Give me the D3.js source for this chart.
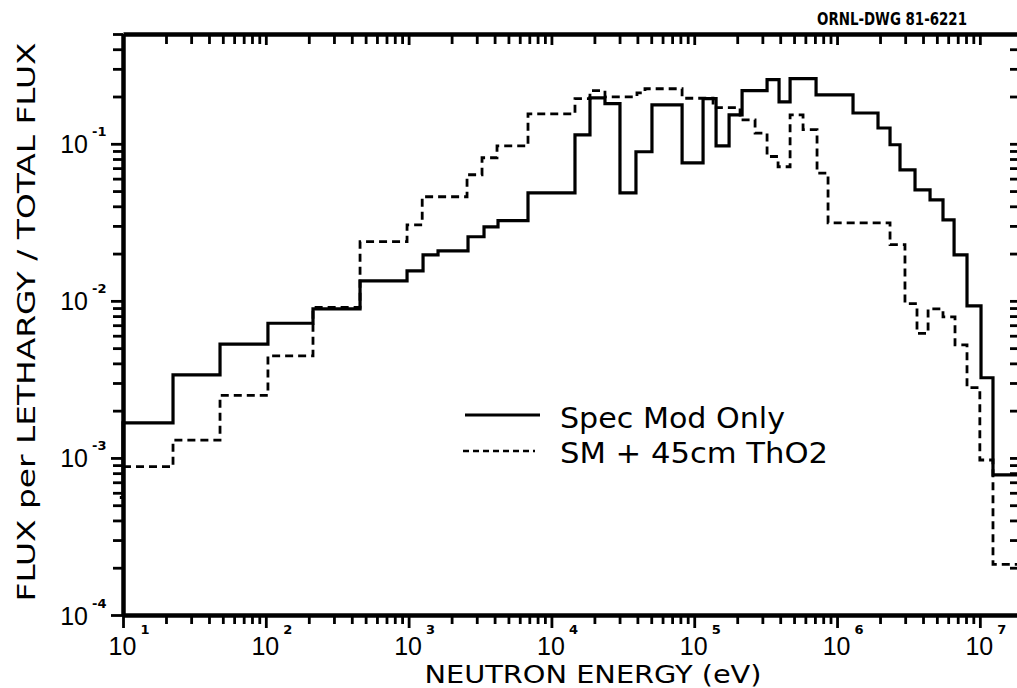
<!DOCTYPE html>
<html>
<head>
<meta charset="utf-8">
<script src="https://cdn.jsdelivr.net/npm/d3@7"></script>
<style>
  html, body { margin: 0; padding: 0; background: #fff; }
  svg { display: block; }
  text { font-family: "DejaVu Sans", "Liberation Sans", Arial, sans-serif; fill: #000; }
  .tick-num { font-family: "Liberation Sans", Arial, sans-serif; }
</style>
</head>
<body>
<svg id="chart" width="1017" height="688"></svg>
<script>
// Group boundaries (eV) and flux per unit lethargy, normalised to total flux.
// First group of the moderator-only spectrum starts just below 10 eV.
const specModEdges = [9.5, 10, 22.4, 47.8, 103.5, 214, 457, 975, 1262, 1607, 2606, 3373, 4227, 6855,
  14620, 18620, 23710, 30200, 39080, 50580, 82220, 115300, 142200, 175400, 216300, 323600, 392600,
  469000, 713000, 1294000, 1936000, 2350000, 2760000, 3516000, 4480000, 5520000, 6600000, 8130000,
  10190000, 12360000, 18800000];
const specModFlux = [5.6e-4, 1.67e-3, 3.38e-3, 5.3e-3, 7.2e-3, 8.9e-3, 1.34e-2, 1.55e-2, 1.96e-2,
  2.08e-2, 2.56e-2, 2.96e-2, 3.24e-2, 4.87e-2, 0.114, 0.196, 0.18, 0.0487, 0.089, 0.177, 0.0757,
  0.194, 0.097, 0.153, 0.218, 0.256, 0.185, 0.26, 0.205, 0.157, 0.126, 0.0986, 0.0683, 0.0509,
  0.044, 0.0328, 0.0196, 9.3e-3, 3.24e-3, 7.8e-4];

const thoriaEdges = [10, 22.4, 47.8, 103.5, 214, 457, 975, 1245, 2565, 3266, 4159, 6855, 14620, 18620,
  23710, 39720, 45190, 82220, 135500, 209400, 266700, 323600, 386400, 469000, 578100, 724400, 865000,
  2350000, 2990000, 3630000, 4340000, 5520000, 6700000, 8130000, 10000000, 12360000, 18800000];
const thoriaFlux = [8.8e-4, 1.3e-3, 2.5e-3, 4.47e-3, 9.1e-3, 2.38e-2, 3.05e-2, 4.6e-2, 6.35e-2,
  8.15e-2, 9.7e-2, 0.155, 0.194, 0.218, 0.199, 0.211, 0.224, 0.195, 0.17, 0.142, 0.117, 0.083,
  0.0714, 0.153, 0.123, 0.065, 0.0314, 0.0228, 9.6e-3, 6.2e-3, 8.9e-3, 7.9e-3, 5.25e-3, 2.8e-3,
  9.7e-4, 2.1e-4];

const xExponents = [1, 2, 3, 4, 5, 6, 7];
const yExponents = [-4, -3, -2, -1];
const seriesNames = ["Spec Mod Only", "SM + 45cm ThO2"];
const xTitle = "NEUTRON ENERGY (eV)";
const yTitle = "FLUX per LETHARGY / TOTAL FLUX";
const drawingId = "ORNL-DWG 81-6221";

const plot = { left: 123, right: 1019, top: 34, bottom: 615 };

const x = d3.scaleLog().domain([10, 1.88e7]).range([plot.left, plot.right]);
const y = d3.scaleLog().domain([1e-4, 0.5]).range([plot.bottom, plot.top]);

const svg = d3.select("#chart");

// decade + intermediate tick positions
function logTicks(exps, domain) {
  const out = [];
  exps.forEach(e => {
    for (let m = 1; m <= 9; m++) {
      const v = m * Math.pow(10, e);
      if (v >= domain[0] * 0.999 && v <= domain[1]) out.push(v);
    }
  });
  return out;
}
const xTicks = logTicks(xExponents, x.domain());
const yTicks = logTicks(yExponents, y.domain());
const isDecade = v => Math.abs(Math.log10(v) - Math.round(Math.log10(v))) < 1e-6;

function styleAxis(g, majorLen, minorLen, sign, horiz) {
  g.select(".domain").attr("stroke", "#000").attr("stroke-width", 4.5);
  g.selectAll(".tick line")
    .attr("stroke", "#000").attr("stroke-width", 2.8)
    .each(function(d) {
      const len = (isDecade(d) ? majorLen : minorLen) * sign;
      d3.select(this).attr(horiz ? "y2" : "x2", len);
    });
  g.selectAll(".tick text").remove();
}

// bottom axis (ticks downward)
const gB = svg.append("g").attr("transform", `translate(0,${plot.bottom})`)
  .call(d3.axisBottom(x).tickValues(xTicks).tickFormat("").tickSizeOuter(0));
styleAxis(gB, 13, 9, 1, true);

// top axis (ticks downward, into the plot)
const gT = svg.append("g").attr("transform", `translate(0,${plot.top})`)
  .call(d3.axisTop(x).tickValues(xTicks).tickFormat("").tickSizeOuter(0));
styleAxis(gT, 11, 10, 1, true);

// left axis (ticks outward)
const gL = svg.append("g").attr("transform", `translate(${plot.left},0)`)
  .call(d3.axisLeft(y).tickValues(yTicks).tickFormat("").tickSizeOuter(0));
styleAxis(gL, 12, 10, -1, false);

// right axis (ticks inward)
const gR = svg.append("g").attr("transform", `translate(${plot.right},0)`)
  .call(d3.axisRight(y).tickValues(yTicks).tickFormat("").tickSizeOuter(0));
styleAxis(gR, 9, 9, -1, false);

// x tick labels: 10 with superscript exponent
gB.selectAll(".tick").filter(d => isDecade(d)).each(function(d) {
  const t = d3.select(this);
  const e = Math.round(Math.log10(d));
  t.append("text").attr("class", "tick-num").attr("x", -1).attr("y", 40)
    .attr("text-anchor", "middle").attr("font-size", 25).text("10");
  t.append("text").attr("x", 17).attr("y", 19).attr("text-anchor", "start")
    .attr("font-size", 13).attr("font-weight", "bold").text(String(e));
});

// y tick labels
gL.selectAll(".tick").filter(d => isDecade(d)).each(function(d) {
  const t = d3.select(this);
  const e = Math.round(Math.log10(d));
  t.append("text").attr("class", "tick-num").attr("x", -35).attr("y", 9)
    .attr("text-anchor", "end").attr("font-size", 25).text("10");
  t.append("text").attr("x", -31).attr("y", -8).attr("text-anchor", "start")
    .attr("font-size", 13).attr("font-weight", "bold").text("-" + Math.abs(e));
});

// step histograms
svg.append("clipPath").attr("id", "plotClip").append("rect")
  .attr("x", 118).attr("y", plot.top).attr("width", plot.right - 118).attr("height", plot.bottom - plot.top);

function stepPoints(edges, vals) {
  const pts = vals.map((v, i) => [edges[i], v]);
  pts.push([edges[edges.length - 1], vals[vals.length - 1]]);
  return pts;
}
const step = d3.line().x(d => x(d[0])).y(d => y(d[1])).curve(d3.curveStepAfter);

const gData = svg.append("g").attr("clip-path", "url(#plotClip)");
gData.append("path").datum(stepPoints(thoriaEdges, thoriaFlux))
  .attr("d", step).attr("fill", "none").attr("stroke", "#000")
  .attr("stroke-width", 2.8).attr("stroke-dasharray", "8,5");
gData.append("path").datum(stepPoints(specModEdges, specModFlux))
  .attr("d", step).attr("fill", "none").attr("stroke", "#000")
  .attr("stroke-width", 3.2).attr("stroke-linejoin", "miter");

// legend
const legend = svg.append("g");
legend.append("line").attr("x1", 465).attr("x2", 540).attr("y1", 415).attr("y2", 415)
  .attr("stroke", "#000").attr("stroke-width", 2.8);
legend.append("text").attr("x", 560).attr("y", 428).attr("font-size", 28)
  .attr("textLength", 225).attr("lengthAdjust", "spacingAndGlyphs").text(seriesNames[0]);
legend.append("line").attr("x1", 463).attr("x2", 535).attr("y1", 451).attr("y2", 451)
  .attr("stroke", "#000").attr("stroke-width", 2.6).attr("stroke-dasharray", "6,4");
legend.append("text").attr("x", 560).attr("y", 463).attr("font-size", 28)
  .attr("textLength", 268).attr("lengthAdjust", "spacingAndGlyphs").text(seriesNames[1]);

// axis titles
svg.append("text").attr("x", 593).attr("y", 683).attr("text-anchor", "middle")
  .attr("font-size", 25).attr("textLength", 337).attr("lengthAdjust", "spacingAndGlyphs")
  .text(xTitle);
svg.append("text").attr("transform", "translate(35,322) rotate(-90)").attr("text-anchor", "middle")
  .attr("font-size", 25).attr("textLength", 559).attr("lengthAdjust", "spacingAndGlyphs")
  .text(yTitle);

// drawing number
svg.append("text").attr("x", 817).attr("y", 25).attr("font-size", 17).attr("font-weight", "bold")
  .attr("textLength", 150).attr("lengthAdjust", "spacingAndGlyphs").text(drawingId);
</script>
</body>
</html>
